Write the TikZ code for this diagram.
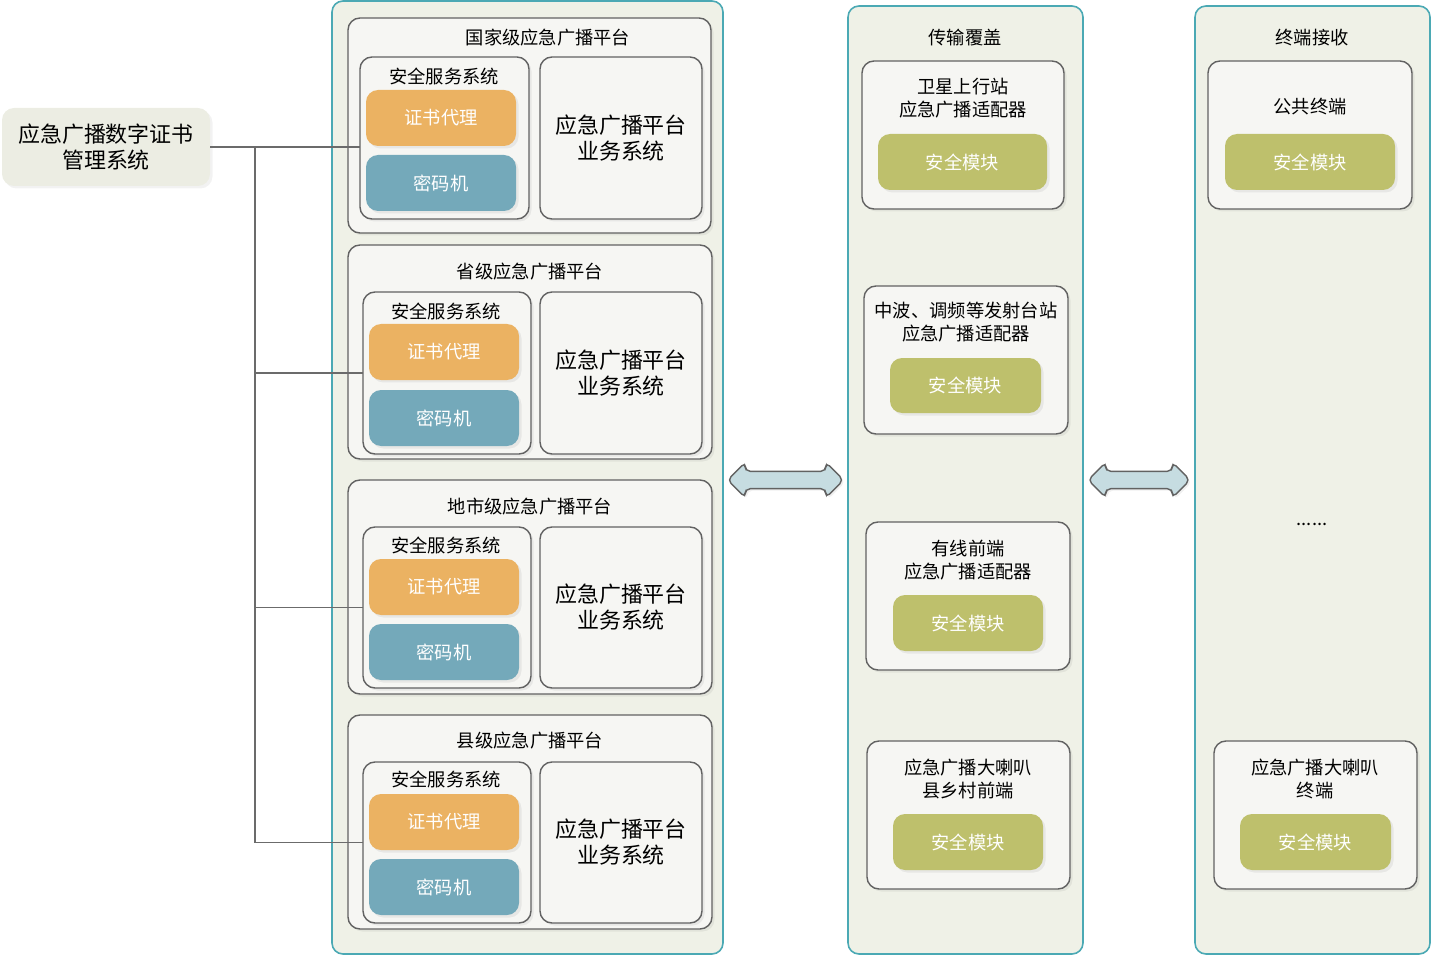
\documentclass[tikz,border=0pt]{standalone}
\usepackage{fontspec}
\setmainfont{Noto Sans CJK SC}
\usetikzlibrary{shapes.arrows,shadows}

\definecolor{panelfill}{HTML}{EFF1E7}
\definecolor{paneldraw}{HTML}{4BA9B4}
\definecolor{boxfill}{HTML}{F6F6F3}
\definecolor{boxdraw}{HTML}{626262}
\definecolor{certfill}{HTML}{EBB262}
\definecolor{cipherfill}{HTML}{74A9BA}
\definecolor{modfill}{HTML}{BEC06C}
\definecolor{mgmtfill}{HTML}{ECEDE3}
\definecolor{arrowfill}{HTML}{C6DCE1}
\definecolor{linecol}{HTML}{6B6B6B}

\begin{document}
\begin{tikzpicture}[x=0.02cm,y=-0.02cm,inner sep=0pt,outer sep=0pt,
  wh/.style 2 args={minimum width=#1*0.02cm,minimum height=#2*0.02cm},
  small/.style={font=\fontsize{10.4}{13}\selectfont},
  big/.style={font=\fontsize{12.5}{14.8}\selectfont},
  panel/.style={draw=paneldraw,fill=panelfill,line width=0.9pt,rounded corners=0.22cm},
  box node/.style={draw=boxdraw,fill=boxfill,line width=0.8pt,rounded corners=0.24cm,
    drop shadow={opacity=0.12,shadow xshift=0.05cm,shadow yshift=-0.05cm}},
  fill node/.style={rounded corners=0.24cm,text=white,small,
    drop shadow={opacity=0.12,shadow xshift=0.05cm,shadow yshift=-0.05cm}},
  cert node/.style={fill node,fill=certfill,wh={150}{56}},
  cipher node/.style={fill node,fill=cipherfill,wh={150}{56}},
  mod node/.style={fill node,fill=modfill},
  link/.style={draw=linecol,line width=0.9pt},
  both arrow/.style={double arrow,draw=boxdraw,fill=arrowfill,line width=0.8pt,
    inner xsep=0pt,inner ysep=0.16cm,double arrow head extend=0.18cm,
    rounded corners=0.1cm,
    drop shadow={opacity=0.12,shadow xshift=0.04cm,shadow yshift=-0.04cm}}]

  \useasboundingbox (0,0) rectangle (1434,956);

  % columns
  \node[panel,wh={391}{953}] (col1) at (527.5,477.5) {};
  \node[panel,wh={235}{948}] (col2) at (965.5,480) {};
  \node[panel,wh={235}{948}] (col3) at (1312.5,480) {};

  % management system
  \node[fill=mgmtfill,rounded corners=0.24cm,wh={208}{78},align=center,big,
    drop shadow={opacity=0.1,shadow xshift=0.05cm,shadow yshift=-0.05cm}] (mgmt) at (106,147)
    {应急广播数字证书\\管理系统};

  % platforms
  \node[box node,wh={363}{215}] (p1) at (529.5,125.5) {};
  \node[box node,wh={364}{214}] (p2) at (530,352) {};
  \node[box node,wh={364}{214}] (p3) at (530,587) {};
  \node[box node,wh={364}{214}] (p4) at (530,822) {};
  \node[small] (p1t) at (548,38) {国家级应急广播平台};
  \node[small] (p2t) at (530,272) {省级应急广播平台};
  \node[small] (p3t) at (530,507) {地市级应急广播平台};
  \node[small] (p4t) at (530,741) {县级应急广播平台};

  % security service systems
  \node[box node,wh={169}{162}] (s1) at (444.5,138) {};
  \node[box node,wh={168}{162}] (s2) at (447,373) {};
  \node[box node,wh={168}{161}] (s3) at (447,607.5) {};
  \node[box node,wh={168}{161}] (s4) at (447,842.5) {};
  \node[small] (s1t) at (444,76) {安全服务系统};
  \node[small] (s2t) at (446,311) {安全服务系统};
  \node[small] (s3t) at (446,545) {安全服务系统};
  \node[small] (s4t) at (446,779) {安全服务系统};

  \node[cert node] (c1) at (441,118) {证书代理};
  \node[cipher node] (k1) at (441,183) {密码机};
  \node[cert node] (c2) at (444,352) {证书代理};
  \node[cipher node] (k2) at (444,418) {密码机};
  \node[cert node] (c3) at (444,587) {证书代理};
  \node[cipher node] (k3) at (444,652) {密码机};
  \node[cert node] (c4) at (444,822) {证书代理};
  \node[cipher node] (k4) at (444,887) {密码机};

  % business systems
  \node[box node,wh={162}{162},big,align=center] (b1) at (621,138) {应急广播平台\\业务系统};
  \node[box node,wh={162}{162},big,align=center] (b2) at (621,373) {应急广播平台\\业务系统};
  \node[box node,wh={162}{161},big,align=center] (b3) at (621,607.5) {应急广播平台\\业务系统};
  \node[box node,wh={162}{161},big,align=center] (b4) at (621,842.5) {应急广播平台\\业务系统};

  % transmission
  \node[small] (col2t) at (965,38) {传输覆盖};
  \node[box node,wh={202}{148}] (a1) at (963,135) {};
  \node[box node,wh={204}{148}] (a2) at (966,360) {};
  \node[box node,wh={204}{148}] (a3) at (968,596) {};
  \node[box node,wh={203}{148}] (a4) at (968.5,815) {};
  \node[small,align=center] (a1t) at (963,98.5) {卫星上行站\\应急广播适配器};
  \node[small,align=center] (a2t) at (966,322.5) {中波、调频等发射台站\\应急广播适配器};
  \node[small,align=center] (a3t) at (968,560.5) {有线前端\\应急广播适配器};
  \node[small,align=center] (a4t) at (968,779) {应急广播大喇叭\\县乡村前端};
  \node[mod node,wh={169}{56}] (m1) at (962.5,162) {安全模块};
  \node[mod node,wh={151}{55}] (m2) at (965.5,385.5) {安全模块};
  \node[mod node,wh={150}{56}] (m3) at (968,623) {安全模块};
  \node[mod node,wh={150}{56}] (m4) at (968,842) {安全模块};

  % terminals
  \node[small] (col3t) at (1312,38) {终端接收};
  \node[box node,wh={204}{148}] (r1) at (1310,135) {};
  \node[box node,wh={203}{148}] (r2) at (1315.5,815) {};
  \node[small] (r1t) at (1310,107) {公共终端};
  \node[small,align=center] (r2t) at (1315,779) {应急广播大喇叭\\终端};
  \node[mod node,wh={170}{56}] (m5) at (1310,162) {安全模块};
  \node[mod node,wh={151}{56}] (m6) at (1315.5,842) {安全模块};
  \node[small] (dots) at (1312,524) {......};

  % arrows between columns
  \node[both arrow,minimum height=116*0.02cm] (ar1) at (785.5,480) {};
  \node[both arrow,minimum height=102*0.02cm] (ar2) at (1139,480) {};

  % links
  \coordinate (j1) at (255,147);
  \path[link] (mgmt.east) -- (mgmt.east -| s1.west);
  \path[link]
    (j1) |- (s2.west)
    (j1) |- (s3.west)
    (j1) |- (s4.west);

\end{tikzpicture}
\end{document}
